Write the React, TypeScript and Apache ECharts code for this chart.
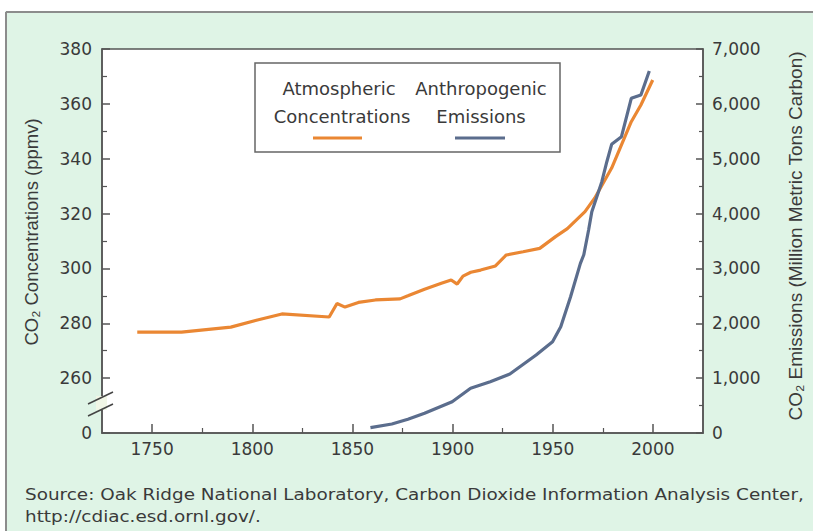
import React, { useEffect, useRef } from "react";
import * as echarts from "echarts";

// Atmospheric CO2 concentrations (ppmv)
const concYears = [1742.6, 1764.7, 1789.3, 1802.6, 1814.8, 1838.4, 1842.3, 1846.3, 1853, 1861.5, 1873.8, 1877.7, 1886, 1894.4, 1899.3, 1902.3, 1905.2, 1909.1, 1914, 1921.4, 1926.8, 1935.2, 1943.5, 1951.4, 1957.3, 1966.1, 1971, 1979.4, 1989.2, 1994, 1999.9];
const concValues = [276.8, 276.8, 278.6, 281.2, 283.4, 282.3, 287.2, 285.9, 287.6, 288.5, 288.9, 290.0, 292.4, 294.6, 295.8, 294.3, 297.2, 298.6, 299.4, 300.9, 304.9, 306.1, 307.3, 311.6, 314.5, 320.7, 325.7, 336.6, 353.5, 359.6, 368.7];

// Anthropogenic CO2 emissions (million metric tons carbon)
const emYears = [1859, 1869.7, 1877.7, 1886, 1899.8, 1909, 1918.8, 1928.6, 1941.7, 1949.9, 1954, 1958.9, 1963.8, 1965.5, 1967.9, 1969.5, 1974.5, 1977, 1979.4, 1984.3, 1989.2, 1994, 1998.2];
const emValues = [97, 164, 250, 359, 571, 815, 936, 1075, 1422, 1665, 1938, 2485, 3093, 3250, 3700, 4034, 4581, 4945, 5262, 5401, 6101, 6161, 6599];

// Axis ticks
const xLabelYears = [1750, 1800, 1850, 1900, 1950, 2000];
const xMinorYears = [1775, 1825, 1875, 1925, 1975];

const ORANGE = "#ea8733";
const BLUE = "#5b6d8d";
const AXIS = "#555555";
const TEXT = "#3a3a3a";
const GREEN = "#dff4e6";
const SANS = "DejaVu Sans";
const TITLE_FONT = "Liberation Sans";

export default function App() {
  const ref = useRef<HTMLDivElement>(null);

  useEffect(() => {
    document.body.style.margin = "0";
    const chart = echarts.init(ref.current!, null, { renderer: "svg" });
    const labelStyle = { color: TEXT, fontFamily: SANS, fontSize: 17 };
    chart.setOption({
      animation: false,
      backgroundColor: GREEN,
      grid: {
        left: 102,
        top: 49,
        right: 101,
        bottom: 98,
        show: true,
        backgroundColor: "#ffffff",
        borderColor: AXIS,
        borderWidth: 1.5,
      },
      xAxis: [
        {
          type: "value",
          min: 1725,
          max: 2025,
          position: "bottom",
          axisLine: { show: true, lineStyle: { color: AXIS, width: 1.5 } },
          axisTick: { show: true, inside: true, length: 9, customValues: xLabelYears, lineStyle: { color: AXIS, width: 1.5 } },
          axisLabel: { ...labelStyle, margin: 7, customValues: xLabelYears, formatter: (v: number) => String(v) },
          splitLine: { show: false },
        },
        {
          type: "value",
          min: 1725,
          max: 2025,
          position: "bottom",
          offset: 0,
          axisLine: { show: false },
          axisTick: { show: true, inside: true, length: 5, customValues: xMinorYears, lineStyle: { color: AXIS, width: 1.2 } },
          axisLabel: { show: false },
          splitLine: { show: false },
        },
      ],
      yAxis: [
        {
          type: "value",
          min: 240,
          max: 380,
          interval: 20,
          position: "left",
          name: "CO₂ Concentrations (ppmv)",
          nameLocation: "middle",
          nameGap: 61,
          nameRotate: 90,
          nameTextStyle: { color: TEXT, fontFamily: TITLE_FONT, fontSize: 18.5, padding: [0, 0, 0, 18] },
          axisLine: { show: true, lineStyle: { color: AXIS, width: 1.5 } },
          axisTick: { show: true, inside: true, length: 8, lineStyle: { color: AXIS, width: 1.5 } },
          minorTick: { show: true, splitNumber: 2, length: 5, lineStyle: { color: AXIS, width: 1.2 } },
          axisLabel: { ...labelStyle, margin: 10, formatter: (v: number) => (v === 240 ? "0" : String(v)) },
          splitLine: { show: false },
          minorSplitLine: { show: false },
        },
        {
          type: "value",
          min: 0,
          max: 7000,
          interval: 1000,
          position: "right",
          name: "CO₂ Emissions (Million Metric Tons Carbon)",
          nameLocation: "middle",
          nameGap: 83,
          nameRotate: 90,
          nameTextStyle: { color: TEXT, fontFamily: TITLE_FONT, fontSize: 19, padding: [0, 0, 0, 10] },
          axisLine: { show: true, lineStyle: { color: AXIS, width: 1.5 } },
          axisTick: { show: true, inside: true, length: 7, lineStyle: { color: AXIS, width: 1.5 } },
          minorTick: { show: true, splitNumber: 2, length: 4, lineStyle: { color: AXIS, width: 1.2 } },
          axisLabel: { ...labelStyle, margin: 9, formatter: (v: number) => v.toLocaleString("en-US") },
          splitLine: { show: false },
          minorSplitLine: { show: false },
        },
      ],
      series: [
        {
          name: "Atmospheric Concentrations",
          type: "line",
          xAxisIndex: 0,
          yAxisIndex: 0,
          showSymbol: false,
          lineStyle: { color: ORANGE, width: 3.2 },
          itemStyle: { color: ORANGE },
          data: concYears.map((y, i) => [y, concValues[i]]),
          z: 3,
        },
        {
          name: "Anthropogenic Emissions",
          type: "line",
          xAxisIndex: 0,
          yAxisIndex: 1,
          showSymbol: false,
          lineStyle: { color: BLUE, width: 3.2 },
          itemStyle: { color: BLUE },
          data: emYears.map((y, i) => [y, emValues[i]]),
          z: 4,
        },
      ],
      graphic: [
        // white strip above and left of the green panel, with grey border
        { type: "rect", z: 50, shape: { x: 0, y: 0, width: 813, height: 11 }, style: { fill: "#ffffff" } },
        { type: "rect", z: 50, shape: { x: 0, y: 0, width: 5, height: 531 }, style: { fill: "#ffffff" } },
        { type: "line", z: 51, shape: { x1: 6, y1: 12, x2: 813, y2: 12 }, style: { stroke: "#8c8c8c", lineWidth: 2 } },
        { type: "line", z: 51, shape: { x1: 6, y1: 12, x2: 6, y2: 531 }, style: { stroke: "#8c8c8c", lineWidth: 2 } },
        // axis break on the left axis
        { type: "rect", z: 60, shape: { x: 96, y: 396, width: 11, height: 14 }, style: { fill: "#f1f6e6" } },
        { type: "line", z: 61, shape: { x1: 88, y1: 404, x2: 113, y2: 392 }, style: { stroke: "#444", lineWidth: 1.5 } },
        { type: "line", z: 61, shape: { x1: 88, y1: 416, x2: 113, y2: 404 }, style: { stroke: "#444", lineWidth: 1.5 } },
        // legend box
        { type: "rect", z: 60, shape: { x: 255, y: 63, width: 305, height: 89 }, style: { fill: "#ffffff", stroke: "#666", lineWidth: 1.5 } },
        { type: "text", z: 61, x: 339, y: 88, style: { text: "Atmospheric", fill: TEXT, font: `18px '${SANS}'`, textAlign: "center", textVerticalAlign: "middle" } },
        { type: "text", z: 61, x: 342, y: 116, style: { text: "Concentrations", fill: TEXT, font: `18px '${SANS}'`, textAlign: "center", textVerticalAlign: "middle" } },
        { type: "line", z: 61, shape: { x1: 313, y1: 138, x2: 362, y2: 138 }, style: { stroke: ORANGE, lineWidth: 3 } },
        { type: "text", z: 61, x: 481, y: 88, style: { text: "Anthropogenic", fill: TEXT, font: `18px '${SANS}'`, textAlign: "center", textVerticalAlign: "middle" } },
        { type: "text", z: 61, x: 481, y: 116, style: { text: "Emissions", fill: TEXT, font: `18px '${SANS}'`, textAlign: "center", textVerticalAlign: "middle" } },
        { type: "line", z: 61, shape: { x1: 455, y1: 138, x2: 505, y2: 138 }, style: { stroke: BLUE, lineWidth: 3 } },
        // source note
        { type: "text", z: 61, x: 25, y: 494, scaleX: 1.15, style: { text: "Source: Oak Ridge National Laboratory, Carbon Dioxide Information Analysis Center,", fill: TEXT, font: `16px '${SANS}'`, textAlign: "left", textVerticalAlign: "middle" } },
        { type: "text", z: 61, x: 25, y: 516, scaleX: 1.15, style: { text: "http://cdiac.esd.ornl.gov/.", fill: TEXT, font: `16px '${SANS}'`, textAlign: "left", textVerticalAlign: "middle" } },
      ],
    });
    return () => chart.dispose();
  }, []);

  return <div ref={ref} style={{ width: 813, height: 531 }} />;
}
